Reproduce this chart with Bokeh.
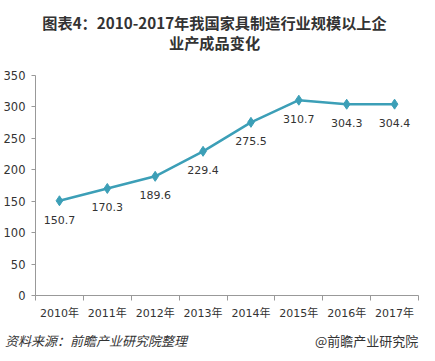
from bokeh.plotting import figure
from bokeh.models import ColumnDataSource, FixedTicker, Range1d, Div
from bokeh.layouts import column
from bokeh.embed import file_html
from bokeh.resources import INLINE
from bokeh.core.properties import value

years = ["2010年", "2011年", "2012年", "2013年", "2014年", "2015年", "2016年", "2017年"]
output = [150.7, 170.3, 189.6, 229.4, 275.5, 310.7, 304.3, 304.4]
y_ticks = [0, 50, 100, 150, 200, 250, 300, 350]

title_1 = "图表4：2010-2017年我国家具制造行业规模以上企"
title_2 = "业产成品变化"
source_text = "资料来源：前瞻产业研究院整理"
credit_text = "@前瞻产业研究院"

LINE = "#3c9fb7"
TXT = "#333333"
NUMFONT = "DejaVu Sans, Noto Sans CJK SC"
CJK = "Noto Sans CJK SC"

xs = [i + 0.5 for i in range(len(years))]
labels = [f"{v:.1f}" for v in output]
src = ColumnDataSource(dict(x=xs, y=output, lab=labels))

header = Div(
    text=(f'<div style="width:419px;height:50px;box-sizing:border-box;padding-top:7px;'
          f'font-family:\'{CJK}\';font-size:15.2px;font-weight:bold;color:{TXT};'
          f'line-height:20px;text-align:center;">{title_1}<br>{title_2}</div>'),
    width=419, height=50)

p = figure(width=419, height=264, output_backend="svg", toolbar_location=None,
           x_range=Range1d(0, len(years)), y_range=Range1d(0, 350),
           min_border_left=29, min_border_right=1, min_border_top=15, min_border_bottom=29)
p.background_fill_color = "white"
p.border_fill_color = "white"
p.outline_line_color = None
p.grid.visible = False

p.line("x", "y", source=src, line_color=LINE, line_width=2.5)
p.scatter("x", "y", source=src, marker="diamond", size=10, fill_color=LINE, line_color=LINE)
p.text("x", "y", text="lab", source=src, y_offset=19, text_align="center", text_baseline="middle",
       text_font=value(NUMFONT), text_font_size="11px", text_color=TXT)

xa = p.xaxis[0]
xa.ticker = FixedTicker(ticks=xs, minor_ticks=list(range(len(years) + 1)))
xa.major_label_overrides = {x: y for x, y in zip(xs, years)}
xa.major_tick_line_color = None
xa.minor_tick_line_color = "#999999"
xa.minor_tick_in = 0
xa.minor_tick_out = 5
xa.axis_line_color = "#999999"
xa.major_label_text_font = NUMFONT
xa.major_label_text_font_size = "11px"
xa.major_label_text_color = TXT
xa.major_label_standoff = 5

ya = p.yaxis[0]
ya.ticker = FixedTicker(ticks=y_ticks)
ya.minor_tick_line_color = None
ya.major_tick_line_color = "#999999"
ya.major_tick_in = 0
ya.major_tick_out = 4
ya.axis_line_color = "#999999"
ya.major_label_text_font = NUMFONT
ya.major_label_text_font_size = "11.5px"
ya.major_label_text_color = TXT
ya.major_label_standoff = 6

footer = Div(
    text=(f'<div style="position:relative;width:419px;height:28px;font-family:\'{CJK}\';'
          f'font-size:13px;color:{TXT};line-height:20px;">'
          f'<span style="position:absolute;left:0;top:2px;font-style:italic;">{source_text}</span>'
          f'<span style="position:absolute;left:310px;top:2px;">{credit_text}</span></div>'),
    width=419, height=28)

layout = column(header, p, footer, spacing=0)
open("out.html", "w").write(file_html(layout, INLINE))
